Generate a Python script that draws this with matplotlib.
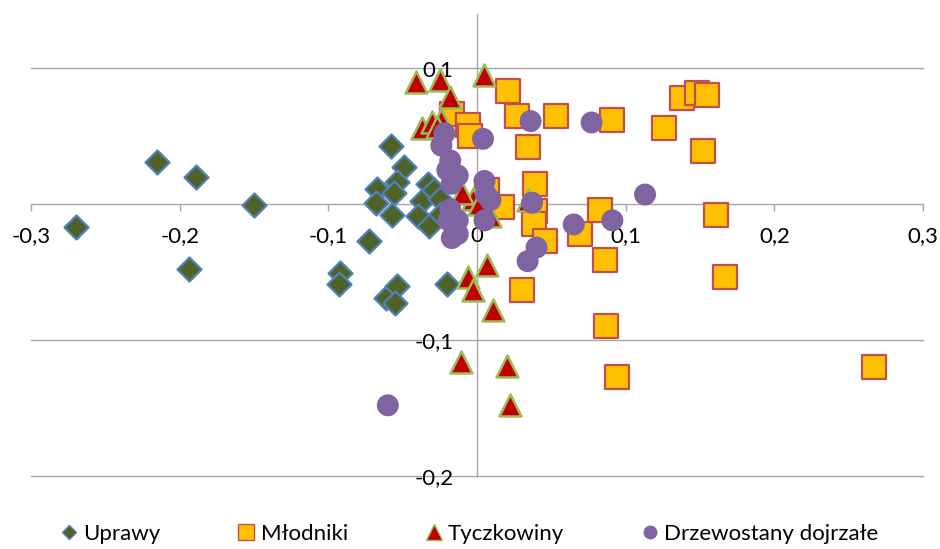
import matplotlib
matplotlib.use('Agg')
import matplotlib.pyplot as plt
from matplotlib.lines import Line2D

plt.rcParams['font.family'] = ['Lato', 'DejaVu Sans']

# Uprawy (diamonds)
upr_x = [-0.270, -0.215, -0.189, -0.150, -0.194, -0.092, -0.093, -0.073, -0.058, -0.049,
         -0.067, -0.068, -0.054, -0.056, -0.057, -0.061, -0.054, -0.055, -0.020, -0.037,
         -0.033, -0.029, -0.040, -0.032, -0.025, -0.024]
upr_y = [-0.017, 0.031, 0.020, -0.001, -0.048, -0.051, -0.059, -0.027, 0.043, 0.027,
         0.011, 0.001, 0.016, 0.008, -0.008, -0.069, -0.060, -0.073, -0.059, 0.002,
         0.015, 0.010, -0.009, -0.016, 0.004, -0.007]

# Mlodniki (squares)
mlo_x = [0.021, 0.027, 0.053, 0.091, 0.126, 0.138, 0.148, 0.155, 0.152, 0.034,
         -0.017, -0.006, -0.005, 0.039, 0.039, 0.038, 0.017, 0.007, 0.046, 0.069,
         0.083, 0.086, 0.030, 0.087, 0.094, 0.161, 0.167, 0.267]
mlo_y = [0.083, 0.065, 0.065, 0.062, 0.056, 0.078, 0.082, 0.080, 0.039, 0.042,
         0.066, 0.058, 0.050, 0.015, -0.005, -0.015, -0.002, 0.010, -0.027, -0.022,
         -0.004, -0.041, -0.063, -0.090, -0.127, -0.008, -0.054, -0.120]

# Tyczkowiny (triangles)
tyc_x = [-0.041, -0.025, -0.018, 0.005, -0.037, -0.030, -0.024, -0.027, -0.003, 0.009,
         0.034, -0.010, 0.007, -0.006, -0.003, 0.011, -0.011, 0.020, 0.022, 0.001]
tyc_y = [0.090, 0.091, 0.079, 0.095, 0.056, 0.060, 0.062, 0.057, 0.004, -0.009,
         0.003, 0.008, -0.045, -0.054, -0.063, -0.078, -0.116, -0.119, -0.148, 0.000]

# Drzewostany dojrzale (circles)
drz_x = [0.036, 0.077, 0.004, -0.022, -0.024, -0.018, -0.020, -0.013, -0.017, 0.005,
         0.009, 0.037, 0.005, 0.065, 0.091, 0.113, 0.040, 0.034, -0.018, -0.013,
         -0.019, -0.013, -0.017, -0.060, 0.006]
drz_y = [0.061, 0.060, 0.048, 0.052, 0.043, 0.032, 0.025, 0.021, 0.015, 0.017,
         0.003, 0.001, -0.012, -0.015, -0.012, 0.007, -0.032, -0.042, -0.004, -0.012,
         -0.012, -0.022, -0.025, -0.148, 0.007]

x_ticks = [-0.3, -0.2, -0.1, 0, 0.1, 0.2, 0.3]
x_labels = ['-0,3', '-0,2', '-0,1', '0', '0,1', '0,2', '0,3']
y_ticks = [-0.2, -0.1, 0, 0.1]
y_labels = ['-0,2', '-0,1', '0', '0,1']

grid_col = '#A6A6A6'

fig = plt.figure(figsize=(9.4, 5.49), dpi=100)
ax = fig.add_axes([0.033, 0.133, 0.949, 0.842])
ax.set_xlim(-0.3, 0.3)
ax.set_ylim(-0.2, 0.14)

# horizontal gridlines
for yv in [-0.2, -0.1, 0.1]:
    ax.plot([-0.3, 0.3], [yv, yv], color=grid_col, lw=1.0, zorder=1, clip_on=False)

for s in ['top', 'right']:
    ax.spines[s].set_visible(False)
ax.spines['bottom'].set_position(('data', 0))
ax.spines['left'].set_position(('data', 0))
for s in ['bottom', 'left']:
    ax.spines[s].set_color(grid_col)
    ax.spines[s].set_linewidth(1.0)
    ax.spines[s].set_zorder(1)

ax.set_xticks(x_ticks)
ax.set_xticklabels(x_labels)
ax.set_yticks(y_ticks)
ax.set_yticklabels(y_labels)
ax.tick_params(axis='x', direction='out', length=5, width=1.0, color=grid_col,
               labelsize=16, pad=11)
ax.tick_params(axis='y', length=0, labelsize=16, pad=17)

ax.scatter(upr_x, upr_y, marker='D', s=150, c='#4F6228', edgecolors='#4F81BD',
           linewidths=1.6, zorder=3, label='Uprawy')
ax.scatter(mlo_x, mlo_y, marker='s', s=280, c='#FFC000', edgecolors='#C0504D',
           linewidths=1.6, zorder=4, label='Młodniki')
ax.scatter(tyc_x, tyc_y, marker='^', s=250, c='#C00000', edgecolors='#9BBB59',
           linewidths=1.8, zorder=5, label='Tyczkowiny')
ax.scatter(drz_x, drz_y, marker='o', s=250, c='#8064A2', edgecolors='none',
           zorder=6, label='Drzewostany dojrzałe')

handles = [
    Line2D([], [], ls='none', marker='D', ms=7, mfc='#4F6228', mec='#4F81BD', mew=1.0),
    Line2D([], [], ls='none', marker='s', ms=11, mfc='#FFC000', mec='#C0504D', mew=1.0),
    Line2D([], [], ls='none', marker='^', ms=11, mfc='#C00000', mec='#9BBB59', mew=1.0),
    Line2D([], [], ls='none', marker='o', ms=10, mfc='#8064A2', mec='none'),
]
fig.legend(handles, ['Uprawy', 'Młodniki', 'Tyczkowiny', 'Drzewostany dojrzałe'],
           loc='center', bbox_to_anchor=(0.5, 0.027), ncol=4, frameon=False,
           fontsize=16, handlelength=0.7, handletextpad=0.3, columnspacing=3.5,
           borderaxespad=0)

fig.savefig('out.png', dpi=100)
